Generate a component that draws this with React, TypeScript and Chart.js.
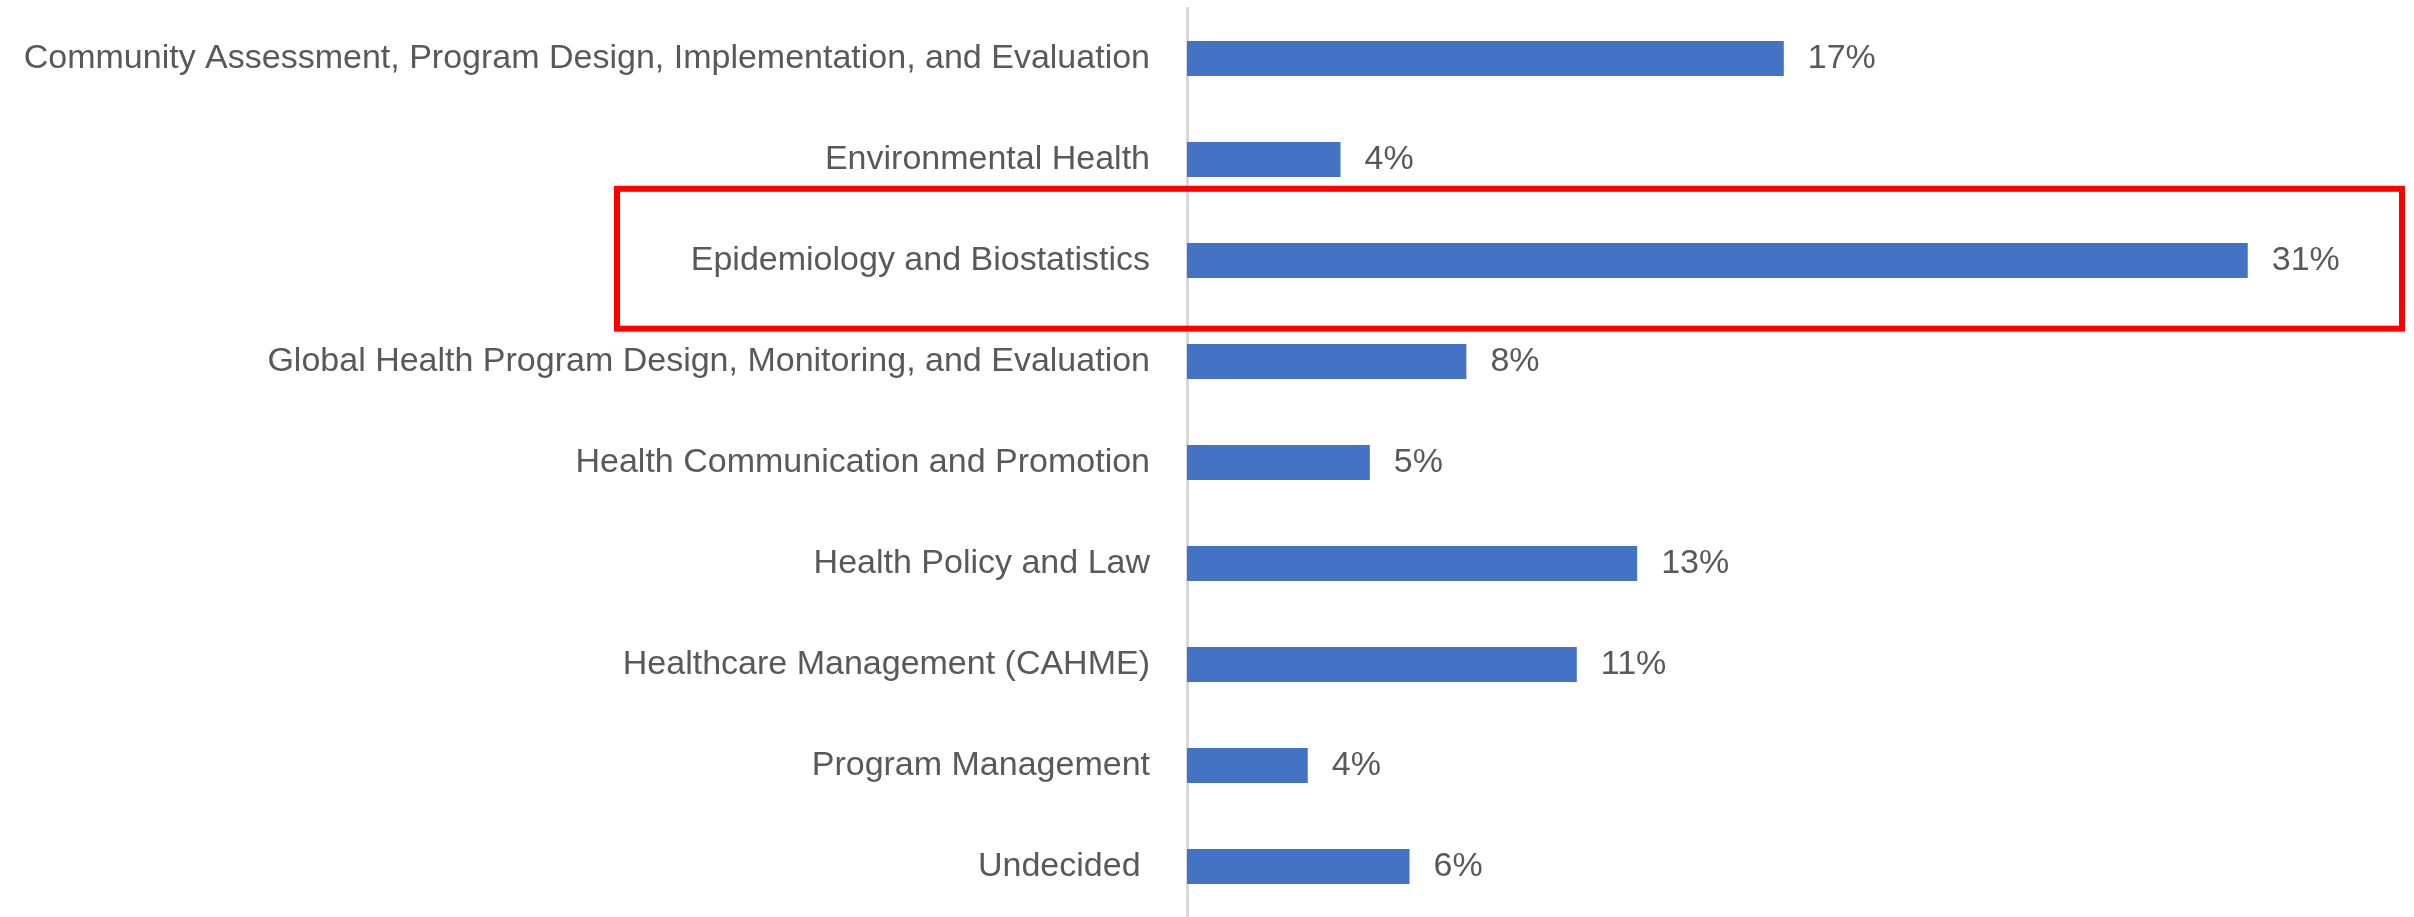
import React, { useEffect, useRef } from 'react';
import { Chart, registerables } from 'chart.js';

Chart.register(...registerables);

const categories = [
  'Community Assessment, Program Design, Implementation, and Evaluation',
  'Environmental Health',
  'Epidemiology and Biostatistics',
  'Global Health Program Design, Monitoring, and Evaluation',
  'Health Communication and Promotion',
  'Health Policy and Law',
  'Healthcare Management (CAHME)',
  'Program Management',
  'Undecided ',
];
const shares = [17.3, 4.45, 30.75, 8.1, 5.3, 13.05, 11.3, 3.5, 6.45];
const shareLabels = ['17%', '4%', '31%', '8%', '5%', '13%', '11%', '4%', '6%'];
const highlightIndex = 2;

const FONT_FAMILY = '"Liberation Sans", Arial, sans-serif';
const TEXT_COLOR = '#595959';

const valueLabelPlugin = {
  id: 'valueLabels',
  afterDatasetsDraw(chart: any) {
    const { ctx } = chart;
    const meta = chart.getDatasetMeta(0);
    ctx.save();
    ctx.font = `34px ${FONT_FAMILY}`;
    ctx.fillStyle = TEXT_COLOR;
    ctx.textAlign = 'left';
    ctx.textBaseline = 'middle';
    meta.data.forEach((bar: any, i: number) => {
      ctx.fillText(shareLabels[i], bar.x + 24, bar.y);
    });
    ctx.restore();
  },
};

const highlightPlugin = {
  id: 'highlightBox',
  afterDraw(chart: any) {
    const { ctx, chartArea } = chart;
    const y = chart.scales.y;
    const c = y.getPixelForValue(highlightIndex);
    const step = y.getPixelForValue(1) - y.getPixelForValue(0);
    const left = chartArea.left - 570;
    const right = chart.width - 12;
    const top = c - 0.71 * step;
    const bottom = c + 0.675 * step;
    ctx.save();
    ctx.strokeStyle = '#ff0000';
    ctx.lineWidth = 6;
    ctx.strokeRect(left, top, right - left, bottom - top);
    ctx.restore();
  },
};

export default function App() {
  const canvasRef = useRef<HTMLCanvasElement | null>(null);

  useEffect(() => {
    document.body.style.margin = '0';
    const canvas = canvasRef.current;
    if (!canvas) return;
    const chart = new Chart(canvas, {
      type: 'bar',
      data: {
        labels: categories,
        datasets: [
          {
            data: shares,
            backgroundColor: '#4472c4',
            barPercentage: 0.345,
            categoryPercentage: 1,
          },
        ],
      },
      options: {
        indexAxis: 'y',
        responsive: false,
        animation: false,
        devicePixelRatio: 1,
        layout: { padding: { top: 8, bottom: -3, left: 0, right: 30 } },
        plugins: {
          legend: { display: false },
          tooltip: { enabled: false },
        },
        scales: {
          x: { display: false, min: 0, max: 34.7 },
          y: {
            grid: { display: false, drawTicks: false },
            border: { display: true, color: '#d9d9d9', width: 3 },
            ticks: {
              padding: 37,
              color: TEXT_COLOR,
              autoSkip: false,
              font: { family: FONT_FAMILY, size: 34 },
            },
            afterFit: (s: any) => {
              s.width = 1187;
              s.paddingTop = 0;
              s.paddingBottom = 0;
            },
          },
        },
      },
      plugins: [valueLabelPlugin, highlightPlugin],
    } as any);
    return () => chart.destroy();
  }, []);

  return (
    <div style={{ width: 2414, height: 917, background: '#ffffff' }}>
      <canvas ref={canvasRef} width={2414} height={917} style={{ display: 'block' }} />
    </div>
  );
}
